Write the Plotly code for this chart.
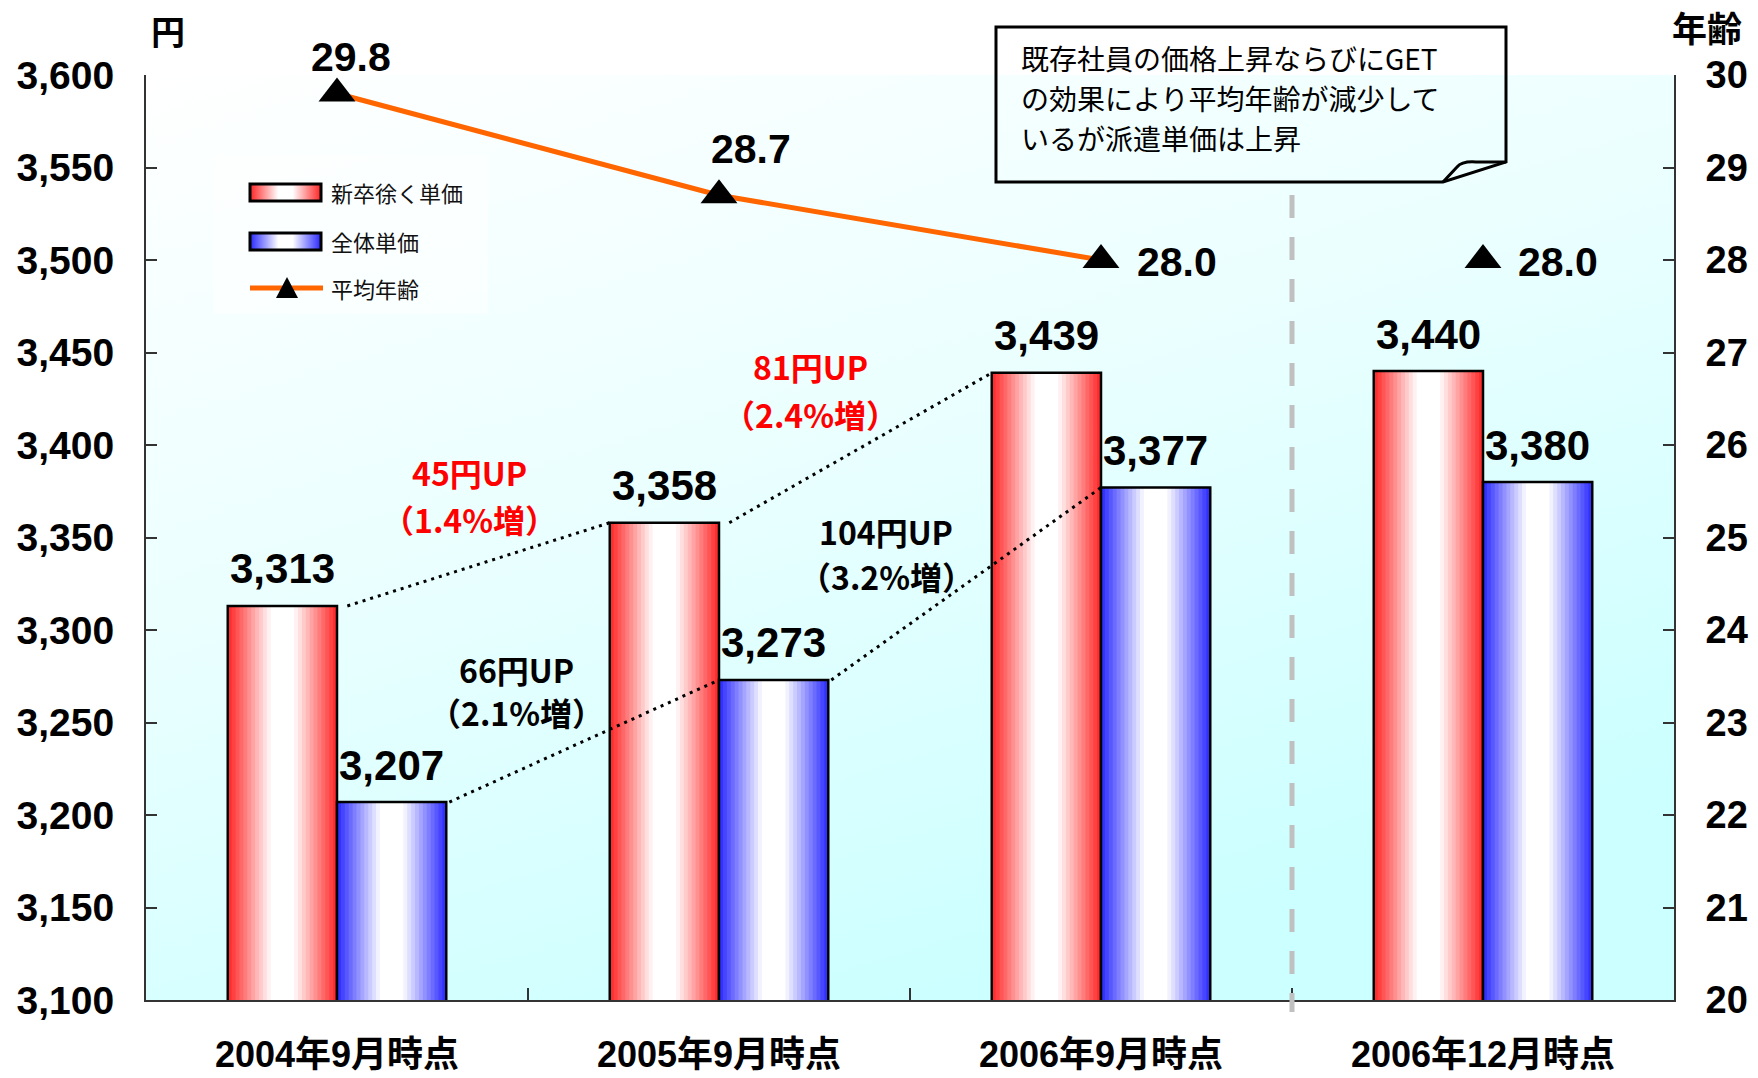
import base64
import plotly.graph_objects as go

# ---------------- data ----------------
categories = ["2004年9月時点", "2005年9月時点", "2006年9月時点", "2006年12月時点"]
price_excl_new = [3313, 3358, 3439, 3440]   # 新卒徐く単価
price_total = [3207, 3273, 3377, 3380]      # 全体単価
avg_age = [29.8, 28.7, 28.0, 28.0]          # 平均年齢
series_names = ["新卒徐く単価", "全体単価", "平均年齢"]
left_title = "円"
right_title = "年齢"
note_lines = ["既存社員の価格上昇ならびにGET", "の効果により平均年齢が減少して", "いるが派遣単価は上昇"]

# ---------------- geometry helpers ----------------
W, H = 1758, 1078
ML, MR, MT, MB = 146, 84, 75, 78
PW = W - ML - MR
PH = H - MT - MB


def px(x):
    return (x - ML) / PW


def py(y):
    return 1 - (y - MT) / PH


NUM_FONT = "Liberation Sans, Noto Sans CJK JP, sans-serif"
JP_FONT = "Noto Sans CJK JP, sans-serif"

BAR_W = 0.286
N_STRIPS = 28
RED_EDGE = (255, 36, 36)
BLUE_EDGE = (40, 40, 255)
ORANGE = "#ff6600"


def whiteness(t):
    return min(1.0, (1 - abs(2 * t - 1)) * 1.25)


def mix(c, f):
    return tuple(int(round(ch + (255 - ch) * f)) for ch in c)


def rgb(c):
    return "rgb(%d,%d,%d)" % c


def hexc(c):
    return "#%02x%02x%02x" % c


fig = go.Figure()


def add_gradient_bars(values, base, edge, name):
    step = BAR_W / N_STRIPS
    for j in range(N_STRIPS):
        t = (j + 0.5) / N_STRIPS
        fig.add_trace(go.Bar(
            x=categories, y=values,
            offset=base + j * step, width=BAR_W - j * step,
            marker=dict(color=rgb(mix(edge, whiteness(t))), line=dict(width=0)),
            showlegend=False, hoverinfo="skip",
        ))
    fig.add_trace(go.Bar(
        x=categories, y=values, offset=base, width=BAR_W, name=name,
        marker=dict(color="rgba(0,0,0,0)", line=dict(color="black", width=2.5)),
        showlegend=False,
    ))


add_gradient_bars(price_excl_new, -BAR_W, RED_EDGE, series_names[0])
add_gradient_bars(price_total, 0.0, BLUE_EDGE, series_names[1])

fig.add_trace(go.Scatter(
    x=categories[:3], y=avg_age[:3], yaxis="y2", mode="lines+markers",
    line=dict(color=ORANGE, width=5),
    marker=dict(symbol="triangle-up", size=32, color="black"),
    name=series_names[2], showlegend=False,
))
fig.add_trace(go.Scatter(
    x=categories[3:], y=avg_age[3:], yaxis="y2", mode="markers",
    marker=dict(symbol="triangle-up", size=32, color="black"),
    showlegend=False,
))

annotations = []
shapes = []
images = []


def ann(**kw):
    kw.setdefault("showarrow", False)
    kw.setdefault("xanchor", "center")
    kw.setdefault("yanchor", "middle")
    annotations.append(kw)


# bar value labels
for i, v in enumerate(price_excl_new):
    ann(x=i - BAR_W / 2, y=v, xref="x", yref="y", text=f"{v:,}", yshift=37,
        font=dict(family=NUM_FONT, size=42, color="black", weight="bold"))
for i, v in enumerate(price_total):
    ann(x=i + BAR_W / 2, y=v, xref="x", yref="y", text=f"{v:,}", yshift=37,
        font=dict(family=NUM_FONT, size=42, color="black", weight="bold"))

# age labels
age_label_pos = [(14, 37, "center"), (32, 46, "center"), (34, -2, "left"), (33, -2, "left")]
for i, a in enumerate(avg_age):
    dx, dy, anc = age_label_pos[i]
    ann(x=categories[i], y=a, xref="x", yref="y2", text=f"{a:.1f}",
        xshift=dx, yshift=dy, xanchor=anc,
        font=dict(family=NUM_FONT, size=41, color="black", weight="bold"))

# increase labels + dotted connectors
inc_pos = {
    "red": [(469, 472, 519), (810, 366, 414)],
    "blue": [(516, 669, 712), (886, 531, 576)],
}
for key, vals, col in (("red", price_excl_new, "#ff0000"), ("blue", price_total, "black")):
    for i in range(2):
        diff = vals[i + 1] - vals[i]
        pct = diff / vals[i] * 100
        cx, y1, y2 = inc_pos[key][i]
        ann(x=px(cx), y=py(y1), xref="paper", yref="paper", text=f"{diff}円UP",
            font=dict(family=JP_FONT, size=32, color=col, weight="bold"))
        ann(x=px(cx), y=py(y2), xref="paper", yref="paper", text=f"（{pct:.1f}%増）",
            font=dict(family=JP_FONT, size=32, color=col, weight="bold"))
        if key == "red":
            x0, x1 = i + 0.027, i + 1 - BAR_W
        else:
            x0, x1 = i + BAR_W + 0.008, i + 1
        shapes.append(dict(type="line", xref="x", yref="y", x0=x0, y0=vals[i], x1=x1, y1=vals[i + 1],
                           line=dict(color="black", width=3, dash="3px,5px"), layer="above"))

# axis titles
ann(x=px(168), y=py(30), xref="paper", yref="paper", text=left_title,
    font=dict(family=JP_FONT, size=34, color="black", weight="bold"))
ann(x=px(1707), y=py(26), xref="paper", yref="paper", text=right_title,
    font=dict(family=JP_FONT, size=35, color="black", weight="bold"))

# note box text (three lines)
for line_txt, yy in zip(note_lines, [58, 98, 138]):
    ann(x=px(1019), y=py(yy), xref="paper", yref="paper", text=line_txt, xanchor="left",
        font=dict(family=JP_FONT, size=28, color="black"))


def path(pts, close=True):
    s = "M " + " L ".join(f"{px(x):.5f},{py(y):.5f}" for x, y in pts)
    return s + (" Z" if close else "")


shapes.append(dict(type="path", xref="paper", yref="paper",
                   path=path([(996, 27), (1506, 27), (1506, 162), (1443, 182), (996, 182)]),
                   line=dict(color="black", width=3), fillcolor="rgba(0,0,0,0)", layer="above"))
fold = (f"M {px(1443):.5f},{py(182):.5f} L {px(1457):.5f},{py(167):.5f} "
        f"Q {px(1462):.5f},{py(161):.5f} {px(1476):.5f},{py(162):.5f} L {px(1506):.5f},{py(162):.5f}")
shapes.append(dict(type="path", xref="paper", yref="paper", path=fold,
                   line=dict(color="black", width=3), layer="above"))

# dashed separator between 2006/9 and 2006/12
shapes.append(dict(type="line", xref="x", yref="paper", x0=2.5, x1=2.5, y0=py(195), y1=py(1012),
                   line=dict(color="#c0c0c0", width=5, dash="23px,19px"), layer="above"))

# legend (custom)
shapes.append(dict(type="rect", xref="paper", yref="paper", x0=px(213), x1=px(488), y0=py(155), y1=py(314),
                   fillcolor="rgba(255,255,255,0.5)", line=dict(width=0), layer="below"))


def grad_svg(stops, x2=1, y2=0):
    st = "".join(f"<stop offset='{o:.3f}' stop-color='{c}'/>" for o, c in stops)
    svg = ("<svg xmlns='http://www.w3.org/2000/svg' width='100' height='100' viewBox='0 0 100 100' "
           "preserveAspectRatio='none'><defs><linearGradient id='g' x1='0' y1='0' "
           f"x2='{x2}' y2='{y2}'>{st}</linearGradient></defs>"
           "<rect x='0' y='0' width='100' height='100' fill='url(#g)'/></svg>")
    return "data:image/svg+xml;base64," + base64.b64encode(svg.encode()).decode()


def bar_stops(edge):
    return [(k / 20, hexc(mix(edge, whiteness(k / 20)))) for k in range(21)]


# plot area background gradient
images.append(dict(source=grad_svg([(0, "#ffffff"), (0.5, "#eaffff"), (1, "#ccffff")], x2=0.5, y2=1),
                   xref="paper", yref="paper", x=0, y=1, sizex=1, sizey=1,
                   xanchor="left", yanchor="top", sizing="stretch", layer="below"))

legend_rows = [(184, 201, RED_EDGE), (233, 250, BLUE_EDGE)]
for (y0, y1, edge) in legend_rows:
    images.append(dict(source=grad_svg(bar_stops(edge)), xref="paper", yref="paper",
                       x=px(250), y=py(y0), sizex=px(321) - px(250), sizey=py(y0) - py(y1),
                       xanchor="left", yanchor="top", sizing="stretch", layer="above"))
    shapes.append(dict(type="rect", xref="paper", yref="paper", x0=px(250), x1=px(321), y0=py(y0), y1=py(y1),
                       line=dict(color="black", width=3), fillcolor="rgba(0,0,0,0)", layer="above"))
shapes.append(dict(type="line", xref="paper", yref="paper", x0=px(250), x1=px(323), y0=py(288), y1=py(288),
                   line=dict(color=ORANGE, width=5), layer="above"))
shapes.append(dict(type="path", xref="paper", yref="paper",
                   path=path([(287, 277), (276, 298), (298, 298)]),
                   fillcolor="black", line=dict(width=0), layer="above"))
for name, yy in zip(series_names, [192, 241, 288]):
    ann(x=px(329), y=py(yy), xref="paper", yref="paper", text=name, xanchor="left",
        font=dict(family=JP_FONT, size=22, color="#111111"))

axis_common = dict(showgrid=False, zeroline=False, showline=True, linecolor="#333333", linewidth=2,
                   ticks="inside", ticklen=11, tickwidth=1.5, tickcolor="#333333", automargin=False)

fig.update_layout(
    width=W, height=H,
    margin=dict(l=ML, r=MR, t=MT, b=MB, autoexpand=False),
    paper_bgcolor="white", plot_bgcolor="rgba(0,0,0,0)",
    barmode="overlay", showlegend=False,
    xaxis=dict(type="category", categoryorder="array", categoryarray=categories,
               range=[-0.5, 3.5], tickson="boundaries", ticklabelstandoff=22,
               tickfont=dict(family=NUM_FONT, size=36, color="black", weight="bold"),
               **{**axis_common, "ticklen": 12}),
    yaxis=dict(range=[3100, 3600], tick0=3100, dtick=50, tickformat=",",
               ticklabelstandoff=22,
               tickfont=dict(family=NUM_FONT, size=39, color="black", weight="bold"),
               **axis_common),
    yaxis2=dict(range=[20, 30], tick0=20, dtick=1, overlaying="y", side="right",
                ticklabelstandoff=22,
                tickfont=dict(family=NUM_FONT, size=38, color="black", weight="bold"),
                **axis_common),
    annotations=annotations, shapes=shapes, images=images,
)

fig.write_html("out.html", config={"displayModeBar": False},
               post_script="document.body.style.margin='0';")
